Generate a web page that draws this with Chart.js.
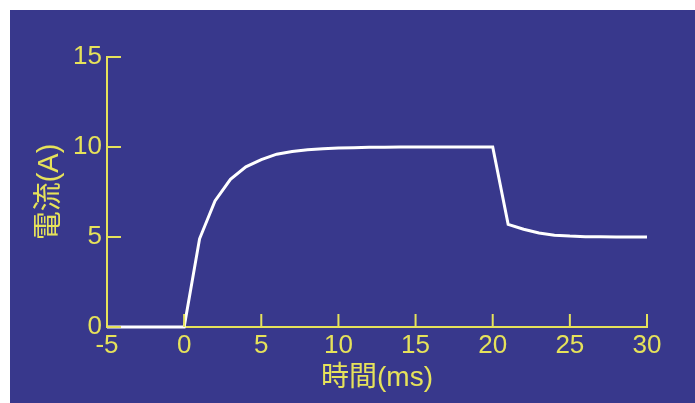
<!DOCTYPE html>
<html>
<head>
<meta charset="utf-8">
<script src="https://cdn.jsdelivr.net/npm/chart.js@4.4.1/dist/chart.umd.min.js"></script>
<style>
body { margin: 0; background: #fff; }
#wrap { position: absolute; left: 10px; top: 10px; width: 685px; height: 393px; background: #38388c; }
</style>
</head>
<body>
<div id="wrap"><canvas id="lineChart" width="685" height="393"></canvas></div>
<script>
// time (ms) and current (A)
var times = [-5, 0, 1, 2, 3, 4, 5, 6, 7, 8, 9, 10, 11, 12, 13, 14, 15, 16, 17, 18, 19, 20,
  21, 22, 23, 24, 25, 26, 27, 28, 29, 30];
var current = [0, 0, 4.9, 7.0, 8.2, 8.9, 9.3, 9.6, 9.75, 9.85, 9.9, 9.94, 9.96, 9.98, 9.99, 10, 10, 10, 10, 10, 10, 10,
  5.7, 5.43, 5.22, 5.1, 5.05, 5.02, 5.01, 5, 5, 5];
var xTicks = [-5, 0, 5, 10, 15, 20, 25, 30];
var yTicks = [0, 5, 10, 15];

var yellow = '#e6e25a';
var font = "'Liberation Sans', 'Noto Sans CJK JP', sans-serif";

var points = times.map(function (t, i) { return { x: t, y: current[i] }; });

// small ticks pointing into the plot
var innerTicks = {
  id: 'innerTicks',
  afterDraw: function (chart) {
    var ctx = chart.ctx, a = chart.chartArea;
    var xs = chart.scales.x, ys = chart.scales.y;
    ctx.save();
    ctx.strokeStyle = yellow;
    ctx.lineWidth = 2;
    xTicks.forEach(function (v) {
      var px = xs.getPixelForValue(v);
      ctx.beginPath(); ctx.moveTo(px, a.bottom); ctx.lineTo(px, a.bottom - 13); ctx.stroke();
    });
    yTicks.forEach(function (v) {
      var py = ys.getPixelForValue(v);
      ctx.beginPath(); ctx.moveTo(a.left, py); ctx.lineTo(a.left + 14, py); ctx.stroke();
    });
    ctx.restore();
  }
};

var ctxL = document.getElementById("lineChart").getContext('2d');
var myLineChart = new Chart(ctxL, {
  type: 'line',
  data: {
    datasets: [{
      label: "電流",
      data: points,
      borderColor: '#ffffff',
      borderWidth: 3,
      pointRadius: 0,
      tension: 0,
      fill: false,
      clip: false
    }]
  },
  options: {
    responsive: false,
    animation: false,
    layout: { padding: { left: 0, top: 47, right: 48, bottom: 0 } },
    plugins: { legend: { display: false }, tooltip: { enabled: false } },
    scales: {
      x: {
        type: 'linear',
        min: -5, max: 30,
        afterBuildTicks: function (s) { s.ticks = xTicks.map(function (v) { return { value: v }; }); },
        afterFit: function (s) { s.height = 76; },
        grid: { display: false, drawTicks: false },
        border: { color: yellow, width: 2 },
        ticks: { color: yellow, padding: 3, font: { family: font, size: 26 } },
        title: { display: true, text: '時間(ms)', color: yellow, padding: { top: 0, bottom: 8 }, font: { family: font, size: 28 } }
      },
      y: {
        min: 0, max: 15,
        afterBuildTicks: function (s) { s.ticks = yTicks.map(function (v) { return { value: v }; }); },
        afterFit: function (s) { s.width = 97; },
        grid: { display: false, drawTicks: false },
        border: { color: yellow, width: 2 },
        ticks: { color: yellow, padding: 5, font: { family: font, size: 26 } },
        title: { display: true, text: '電流(A)', color: yellow, padding: { top: 23, bottom: 0 }, font: { family: font, size: 29 } }
      }
    }
  },
  plugins: [innerTicks]
});
</script>
</body>
</html>
